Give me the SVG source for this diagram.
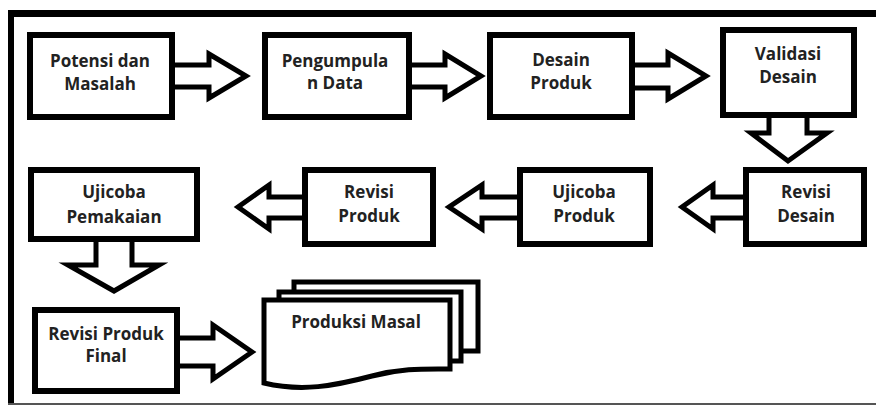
<svg xmlns="http://www.w3.org/2000/svg" width="876" height="405" viewBox="0 0 876 405">
<style>
.box{fill:#fff;stroke:#000;stroke-width:6}
.arr{fill:#fff;stroke:#000;stroke-width:5;stroke-linejoin:miter}
.doc{fill:#fff;stroke:#000;stroke-width:5}
text{font-family:"Open Sans","Liberation Sans",sans-serif;font-weight:bold;font-size:17px;fill:#222;text-anchor:middle}
</style>
<rect x="0" y="0" width="876" height="405" fill="#fff"/>
<g id="frame">
<rect x="8" y="10" width="868" height="7" fill="#000"/>
<rect x="8" y="10" width="6" height="393" fill="#000"/>
<rect x="8" y="403" width="868" height="2" fill="#555"/>
</g>
<g id="connectors">
<path class="arr" d="M172,65 H209 V54 L246,76 L209,98 V87 H172"/>
<path class="arr" d="M409,65 H445 V54 L481,76 L445,98 V87 H409"/>
<path class="arr" d="M632,65 H668 V53 L706,76 L668,99 V88 H632"/>
<path class="arr" d="M769,115 V133 H751 L788,161 L827,133 H807 V115"/>
<path class="arr" d="M746,197 H713 V185 L682,207 L713,229 V218 H746"/>
<path class="arr" d="M520,197 H482 V185 L449,207 L482,229 V218 H520"/>
<path class="arr" d="M305,197 H269 V185 L238,207 L269,229 V218 H305"/>
<path class="arr" d="M96,239 V265 H68 L114,291 L159,265 H132 V239"/>
<path class="arr" d="M177,338 H213 V325 L252,352 L213,379 V366 H177"/>
</g>
<g id="n1"><rect class="box" x="30" y="35" width="142" height="82"/><text x="100" y="67">Potensi dan</text><text x="100" y="90">Masalah</text></g>
<g id="n2"><rect class="box" x="265" y="35" width="144" height="82"/><text x="335" y="67">Pengumpula</text><text x="335" y="89">n Data</text></g>
<g id="n3"><rect class="box" x="490" y="35" width="142" height="82"/><text x="561" y="66">Desain</text><text x="561" y="89">Produk</text></g>
<g id="n4"><rect class="box" x="723" y="30" width="131" height="85"/><text x="788" y="60">Validasi</text><text x="788" y="83">Desain</text></g>
<g id="n5"><rect class="box" x="746" y="170" width="118" height="74"/><text x="806" y="198">Revisi</text><text x="806" y="222">Desain</text></g>
<g id="n6"><rect class="box" x="520" y="170" width="130" height="74"/><text x="584" y="198">Ujicoba</text><text x="584" y="222">Produk</text></g>
<g id="n7"><rect class="box" x="305" y="170" width="128" height="74"/><text x="369" y="198">Revisi</text><text x="369" y="222">Produk</text></g>
<g id="n8"><rect class="box" x="31" y="170" width="166" height="69"/><text x="114" y="198">Ujicoba</text><text x="114" y="223">Pemakaian</text></g>
<g id="n9"><rect class="box" x="35" y="310" width="142" height="81"/><text x="106" y="340">Revisi Produk</text><text x="106" y="362">Final</text></g>
<g id="n10">
<rect class="doc" x="294" y="282" width="184" height="69"/>
<rect class="doc" x="279" y="292" width="182" height="69"/>
<path class="doc" d="M264,300 H450 V369 C424,369 402,368 372,376 C334,386 302,392 264,383 Z"/>
<text x="356" y="328">Produksi Masal</text>
</g>
</svg>
